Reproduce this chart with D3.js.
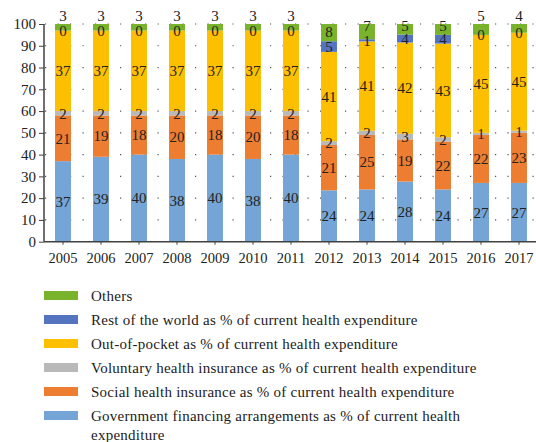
<!DOCTYPE html>
<html>
<head>
<meta charset="utf-8">
<script src="https://cdn.jsdelivr.net/npm/d3@7"></script>
<style>
  body { margin: 0; background: #fff; }
  svg, svg text { font-family: "Liberation Serif", "DejaVu Serif", serif; }
  .domain { stroke: #404040; stroke-width: 1.5; }
  .tick line { stroke: #404040; }
  .tick text { fill: #222; font-family: "Liberation Serif", serif; }
  .yaxis .tick text { font-size: 15px; }
  .xaxis .tick text { font-size: 14.5px; }
</style>
</head>
<body>
<div id="chart"></div>
<script>
// Shares of current health expenditure, per year
var years = ["2005", "2006", "2007", "2008", "2009", "2010", "2011", "2012", "2013", "2014", "2015", "2016", "2017"];
var government  = [37, 39, 40, 38, 40, 38, 40, 23.6, 24, 27.6, 24, 27, 27];
var social      = [21, 19, 18, 20, 18, 20, 18, 20.8, 25, 19.4, 22, 22, 23];
var voluntary   = [2, 2, 2, 2, 2, 2, 2, 1.8, 2, 2.6, 2, 1, 1];
var outOfPocket = [37, 37, 37, 37, 37, 37, 37, 41.0, 41, 41.9, 43, 45, 45];
var restOfWorld = [0, 0, 0, 0, 0, 0, 0, 4.9, 1, 3.6, 4, 0, 0];
var others      = [3, 3, 3, 3, 3, 3, 3, 7.9, 7, 4.9, 5, 5, 4];
var yTicks = [0, 10, 20, 30, 40, 50, 60, 70, 80, 90, 100];

var seriesNames = [
  "Government financing arrangements as % of current health expenditure",
  "Social health insurance as % of current health expenditure",
  "Voluntary health insurance as % of current health expenditure",
  "Out-of-pocket as % of current health expenditure",
  "Rest of the world as % of current health expenditure",
  "Others"
];
var colors = ["#74a5d6", "#ed7d31", "#b9b9b9", "#fdc000", "#5574c0", "#79b22b"];

var keys = ["gov", "soc", "vol", "oop", "row", "oth"];
var table = years.map(function(y, i) {
  return {year: y, gov: government[i], soc: social[i], vol: voluntary[i],
          oop: outOfPocket[i], row: restOfWorld[i], oth: others[i]};
});

var width = 536, height = 442;
var svg = d3.select('#chart').append('svg')
            .attr('width', width)
            .attr('height', height);

var x = d3.scaleBand()
          .domain(years)
          .range([44, 538])
          .paddingInner(0.58)
          .paddingOuter(0.29);

var y = d3.scaleLinear()
          .domain([0, 100])
          .range([241.7, 24]);

// dotted gridlines
svg.append('g')
   .selectAll('line')
   .data(yTicks.slice(1))
   .enter().append('line')
   .attr('x1', 45).attr('x2', 538)
   .attr('y1', function(d) { return y(d); })
   .attr('y2', function(d) { return y(d); })
   .attr('stroke', '#555')
   .attr('stroke-width', 1.2)
   .attr('stroke-dasharray', '1.2 11.3');

var stack = d3.stack().keys(keys);
var layers = stack(table);

var g = svg.append('g')
           .selectAll('g')
           .data(layers)
           .enter().append('g')
           .attr('fill', function(d, i) { return colors[i]; });

g.selectAll('rect')
 .data(function(d) { return d; })
 .enter().append('rect')
 .attr('x', function(d) { return x(d.data.year); })
 .attr('width', x.bandwidth())
 .attr('y', function(d) { return y(d[1]); })
 .attr('height', function(d) { return y(d[0]) - y(d[1]); });

// axes
svg.append('g')
   .classed('yaxis', true)
   .attr('transform', 'translate(44,0)')
   .call(d3.axisLeft(y).tickValues(yTicks).tickSize(5).tickPadding(3))
   .call(function(s) { s.select('.domain').attr('d', 'M0,' + y(0) + 'V' + y(100)); });

svg.append('g')
   .classed('xaxis', true)
   .attr('transform', 'translate(0,' + y(0) + ')')
   .call(d3.axisBottom(x).tickSize(3).tickPadding(8))
   .call(function(s) { s.select('.domain').attr('d', 'M44,0H536'); });

// value labels
var fmt = d3.format('.0f');
layers.forEach(function(layer, li) {
  svg.append('g')
     .selectAll('text')
     .data(layer)
     .enter().append('text')
     .attr('x', function(d) { return x(d.data.year) + x.bandwidth() / 2; })
     .attr('y', function(d) {
       var mid = y((d[0] + d[1]) / 2);
       if (keys[li] === 'oth') {
         // "Others" label sits above the bar when "Rest of the world" is 0
         if (fmt(d.data.row) === '0') return y(100) - 8;
         if (y(d[0]) - y(d[1]) < 16) return y(100) + 2;
         return mid - 1;
       }
       return mid;
     })
     .attr('dy', '0.35em')
     .attr('text-anchor', 'middle')
     .attr('font-size', '15px')
     .attr('fill', '#222')
     .text(function(d) { return fmt(d[1] - d[0]); });
});

// legend (top to bottom: last series first)
var legend = svg.append('g');
var order = seriesNames.map(function(n, i) { return i; }).reverse();
var rowY = 296;
order.forEach(function(i) {
  legend.append('rect')
        .attr('x', 44).attr('y', rowY - 5)
        .attr('width', 34).attr('height', 9)
        .attr('fill', colors[i]);
  var t = legend.append('text')
        .attr('x', 91).attr('y', rowY)
        .attr('dy', '0.35em')
        .attr('font-size', '15px')
        .attr('letter-spacing', '0.25px')
        .attr('fill', '#222');
  // simple word wrap
  var words = seriesNames[i].split(' ');
  var line = [];
  var tspan = t.append('tspan').attr('x', 91);
  words.forEach(function(w) {
    line.push(w);
    tspan.text(line.join(' '));
    if (tspan.node().getComputedTextLength() > 420 && line.length > 1) {
      line.pop();
      tspan.text(line.join(' '));
      line = [w];
      tspan = t.append('tspan').attr('x', 91).attr('dy', '19').text(w);
    }
  });
  rowY += 24;
});
</script>
</body>
</html>
